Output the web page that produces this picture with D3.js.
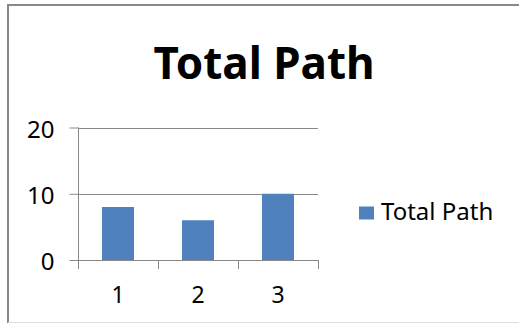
<!DOCTYPE html>
<html>
<head>
<meta charset="utf-8">
<script src="https://cdn.jsdelivr.net/npm/d3@7"></script>
<style>
  html, body { margin: 0; padding: 0; background: #fff; }
  svg { display: block; }
  text { font-family: "Noto Sans", "Open Sans", sans-serif; fill: #000; }
</style>
</head>
<body>
<svg id="chart" width="519" height="324"></svg>
<script>
const categories = ["1", "2", "3"];
const values = [8, 6, 10];
const yTicks = [0, 10, 20];
const seriesName = "Total Path";
const chartTitle = "Total Path";

const svg = d3.select("#chart");
const W = 519, H = 324;

// chart frame
svg.append("rect").attr("x", 0).attr("y", 0).attr("width", W).attr("height", H).attr("fill", "#fff");
svg.append("line").attr("x1", 8).attr("x2", W).attr("y1", 5).attr("y2", 5)
  .attr("stroke", "#888").attr("stroke-width", 2);
svg.append("line").attr("x1", 8).attr("x2", 8).attr("y1", 4).attr("y2", 323)
  .attr("stroke", "#888").attr("stroke-width", 2);
svg.append("line").attr("x1", 8).attr("x2", W).attr("y1", 322.5).attr("y2", 322.5)
  .attr("stroke", "#ddd").attr("stroke-width", 1);

// title
svg.append("text").attr("x", 264).attr("y", 79)
  .attr("text-anchor", "middle").attr("font-size", 44).attr("font-weight", "bold")
  .text(chartTitle);

const plot = { left: 78, right: 318, top: 127.5, bottom: 260 };

const x = d3.scaleBand().domain(categories)
  .range([plot.left, plot.right]).paddingInner(0.6).paddingOuter(0.3);
const y = d3.scaleLinear().domain([0, 20]).range([plot.bottom, plot.top]);

const grid = svg.append("g");
// horizontal gridlines
grid.selectAll("line.grid").data(yTicks.filter(d => d > 0)).join("line")
  .attr("x1", plot.left).attr("x2", plot.right)
  .attr("y1", d => Math.round(y(d)) + 0.5).attr("y2", d => Math.round(y(d)) + 0.5)
  .attr("stroke", "#888").attr("stroke-width", 1);

// bars
svg.append("g").selectAll("rect").data(values).join("rect")
  .attr("x", (d, i) => x(categories[i]))
  .attr("width", x.bandwidth())
  .attr("y", d => y(d))
  .attr("height", d => y(0) - y(d))
  .attr("fill", "#4F81BD");

// y axis
const yAxis = svg.append("g").attr("transform", `translate(${plot.left + 0.5},0)`)
  .call(d3.axisLeft(y).tickValues(yTicks).tickSize(9).tickPadding(15).tickFormat(d3.format("d")));
yAxis.select(".domain").attr("stroke", "#888").attr("d", `M0,${plot.top}V${plot.bottom + 9}`);
yAxis.selectAll(".tick line").attr("stroke", "#888");
yAxis.selectAll(".tick text").attr("font-size", 24).attr("fill", "#000").attr("dy", "0.4em")
  .style("font-family", "'Noto Sans', sans-serif");

// x axis
const xAxis = svg.append("g").attr("transform", `translate(0,${Math.round(y(0)) + 0.5})`)
  .call(d3.axisBottom(x).tickSize(0).tickPadding(26.5));
xAxis.select(".domain").attr("stroke", "#888").attr("d", `M${plot.left},0H${plot.right}`);
xAxis.selectAll(".tick text").attr("font-size", 23).attr("fill", "#000")
  .style("font-family", "'Noto Sans', sans-serif");

// category boundary ticks
const step = x.step();
const bounds = [plot.left,
  ...categories.slice(1).map(c => x(c) - x.paddingInner() * step / 2),
  plot.right];
svg.append("g").selectAll("line").data(bounds).join("line")
  .attr("x1", d => Math.round(d) + 0.5).attr("x2", d => Math.round(d) + 0.5)
  .attr("y1", Math.round(y(0))).attr("y2", Math.round(y(0)) + 9)
  .attr("stroke", "#888");

// legend
const lg = svg.append("g");
lg.append("rect").attr("x", 359).attr("y", 206.5).attr("width", 15).attr("height", 13).attr("fill", "#4F81BD");
lg.append("text").attr("x", 381).attr("y", 220).attr("font-size", 24).text(seriesName);
</script>
</body>
</html>
